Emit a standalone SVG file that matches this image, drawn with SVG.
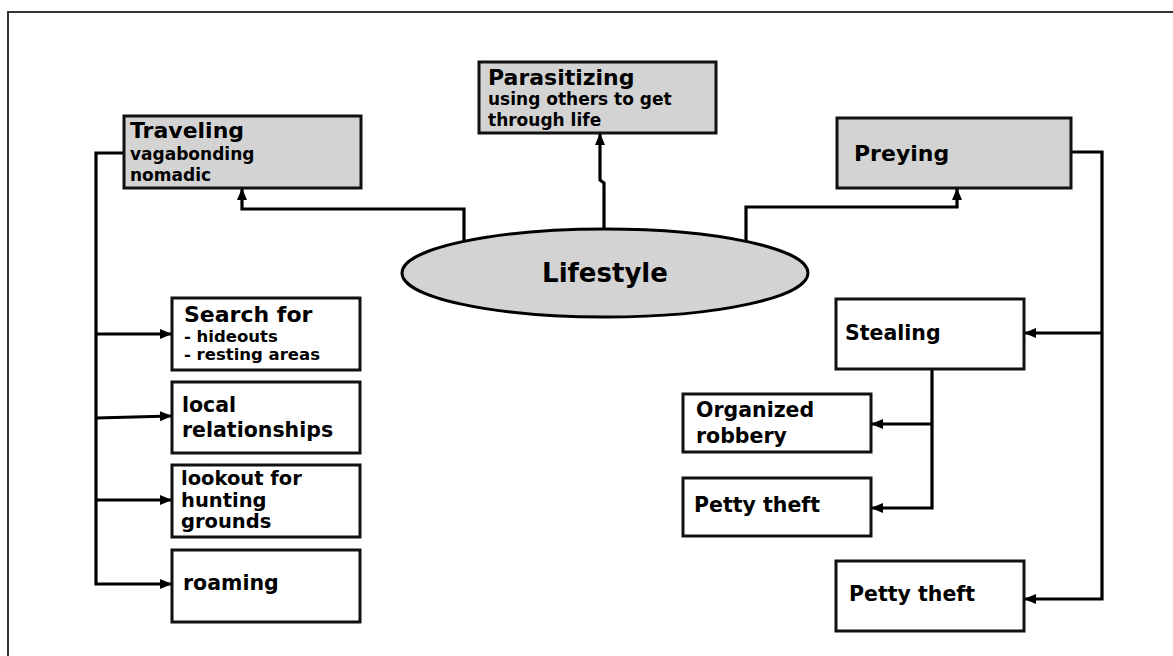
<svg xmlns="http://www.w3.org/2000/svg" width="1173" height="656" viewBox="0 0 1173 656">
<style>
text{font-family:"DejaVu Sans","Liberation Sans",sans-serif;font-weight:bold;fill:#000}
.box{stroke:#111;stroke-width:3}
.g{fill:#d3d3d3}
.w{fill:#fff}
.c{fill:none;stroke:#000;stroke-width:3.2}
.t{font-size:22px}
.s{font-size:17px}
.s2{font-size:16.5px}
.m{font-size:20.5px}
.m2{font-size:19.5px}
</style>
<defs>
<marker id="ah" markerUnits="userSpaceOnUse" markerWidth="12" markerHeight="12" refX="11" refY="6" orient="auto">
<path d="M0,1 L12,6 L0,11 z" fill="#000"/>
</marker>
</defs>
<rect x="0" y="0" width="1173" height="656" fill="#fff"/>
<rect x="8" y="12" width="1200" height="700" fill="none" stroke="#333" stroke-width="2"/>
<g id="connectors">
<path class="c" d="M124,153 H96 V584 H171" marker-end="url(#ah)"/>
<path class="c" d="M96,334 H171" marker-end="url(#ah)"/>
<path class="c" d="M96,418 L171,416" marker-end="url(#ah)"/>
<path class="c" d="M96,500 H171" marker-end="url(#ah)"/>
<path class="c" d="M464,241 V209 H242 V189" marker-end="url(#ah)"/>
<path class="c" d="M604,229 V183 L600,180 V134" marker-end="url(#ah)"/>
<path class="c" d="M746,241 V207 H957 V189" marker-end="url(#ah)"/>
<path class="c" d="M1071,152 H1102 V599 H1025" marker-end="url(#ah)"/>
<path class="c" d="M1102,333 H1025" marker-end="url(#ah)"/>
<path class="c" d="M932,369 V508 H872" marker-end="url(#ah)"/>
<path class="c" d="M932,424 H872" marker-end="url(#ah)"/>
</g>
<g id="traveling">
<rect class="box g" x="124" y="116" width="237" height="72"/>
<text class="t" x="130" y="138">Traveling</text>
<text class="s" x="130" y="160">vagabonding</text>
<text class="s" x="130" y="181">nomadic</text>
</g>
<g id="parasitizing">
<rect class="box g" x="479" y="62" width="237" height="71"/>
<text class="t" x="488" y="85">Parasitizing</text>
<text class="s" x="488" y="105">using others to get</text>
<text class="s" x="488" y="126">through life</text>
</g>
<g id="preying">
<rect class="box g" x="837" y="118" width="234" height="70"/>
<text class="t" x="854" y="161">Preying</text>
</g>
<g id="lifestyle">
<ellipse cx="605" cy="273" rx="203" ry="44" fill="#d3d3d3" stroke="#000" stroke-width="3"/>
<text x="605" y="282" font-size="26" text-anchor="middle">Lifestyle</text>
</g>
<g id="search">
<rect class="box w" x="172" y="298" width="188" height="72"/>
<text class="t" x="184" y="322">Search for</text>
<text class="s2" x="184" y="342">- hideouts</text>
<text class="s2" x="184" y="360">- resting areas</text>
</g>
<g id="local">
<rect class="box w" x="172" y="382" width="188" height="71"/>
<text class="m" x="182" y="412">local</text>
<text class="m" x="182" y="437">relationships</text>
</g>
<g id="lookout">
<rect class="box w" x="172" y="465" width="188" height="72"/>
<text class="m2" x="181" y="485">lookout for</text>
<text class="m2" x="181" y="507">hunting</text>
<text class="m2" x="181" y="528">grounds</text>
</g>
<g id="roaming">
<rect class="box w" x="172" y="550" width="188" height="72"/>
<text class="m" x="183" y="590">roaming</text>
</g>
<g id="stealing">
<rect class="box w" x="836" y="299" width="188" height="70"/>
<text class="m" x="845" y="340">Stealing</text>
</g>
<g id="organized">
<rect class="box w" x="683" y="394" width="188" height="58"/>
<text class="m" x="696" y="417">Organized</text>
<text class="m" x="696" y="443">robbery</text>
</g>
<g id="petty1">
<rect class="box w" x="683" y="478" width="188" height="58"/>
<text class="m" x="694" y="512">Petty theft</text>
</g>
<g id="petty2">
<rect class="box w" x="836" y="561" width="188" height="70"/>
<text class="m" x="849" y="601">Petty theft</text>
</g>
</svg>
